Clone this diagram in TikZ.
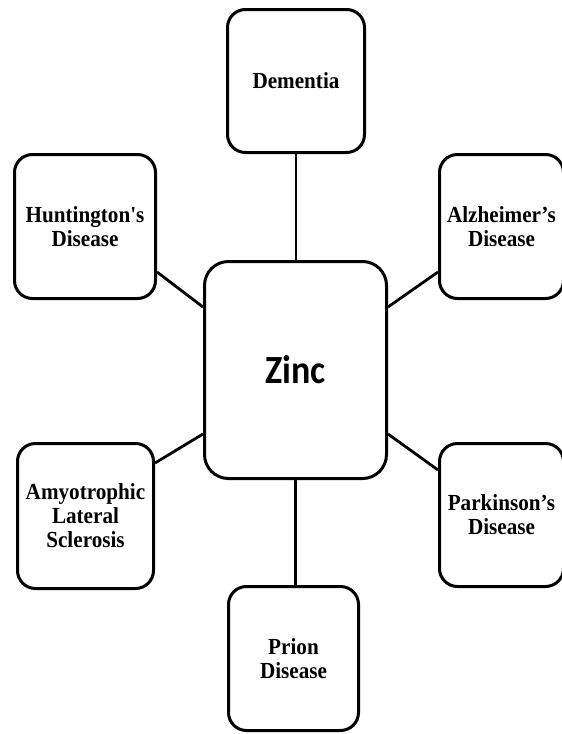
\documentclass[tikz,border=0pt]{standalone}
\usepackage{fontspec}
\newfontfamily\labelfont[FakeStretch=0.92,Ligatures=ResetAll]{Liberation Serif}
\newfontfamily\hubfont[FakeStretch=0.9]{Carlito}
\begin{document}
\begin{tikzpicture}[x=1pt,y=-1pt,
  box/.style={draw, line width=3pt, rounded corners=18pt, fill=white,
    align=center, inner sep=0pt,
    font=\labelfont\bfseries\fontsize{23}{24}\selectfont},
  hub/.style={box, rounded corners=24pt,
    font=\hubfont\bfseries\fontsize{40}{41}\selectfont},
  link/.style={line width=2.8pt}]
\clip (0,0) rectangle (562,734);
\fill[white] (0,0) rectangle (562,734);

% central node
\node[hub, minimum width=182pt, minimum height=217pt] (zinc) at (295.5,370) {Zinc};

% surrounding disorders
\node[box, minimum width=137pt, minimum height=143pt] (dem)  at (296,81)     {Dementia};
\node[box, minimum width=141pt, minimum height=144pt] (hunt) at (85,226.5)   {Huntington's\\Disease};
\node[box, minimum width=124pt, minimum height=144pt] (alz)  at (501.5,226.5) {Alzheimer’s\\Disease};
\node[box, minimum width=136pt, minimum height=145pt] (als)  at (85.5,516)   {Amyotrophic\\Lateral\\Sclerosis};
\node[box, minimum width=124pt, minimum height=143pt] (park) at (501.5,515)  {Parkinson’s\\Disease};
\node[box, minimum width=130pt, minimum height=144pt] (prion) at (293.5,658.5) {Prion\\Disease};

% connectors
\draw[link] (dem.south) -- (dem.south |- zinc.north);
\draw[link] (zinc.south) -- (zinc.south |- prion.north);
\draw[link] ([yshift=-45.5pt]hunt.east) -- ([yshift=63pt]zinc.west);
\draw[link] ([yshift=53pt]als.east) -- ([yshift=-64pt]zinc.west);
\draw[link] ([yshift=63pt]zinc.east) -- ([yshift=-45.5pt]alz.west);
\draw[link] ([yshift=-64pt]zinc.east) -- ([yshift=45pt]park.west);
\end{tikzpicture}
\end{document}
